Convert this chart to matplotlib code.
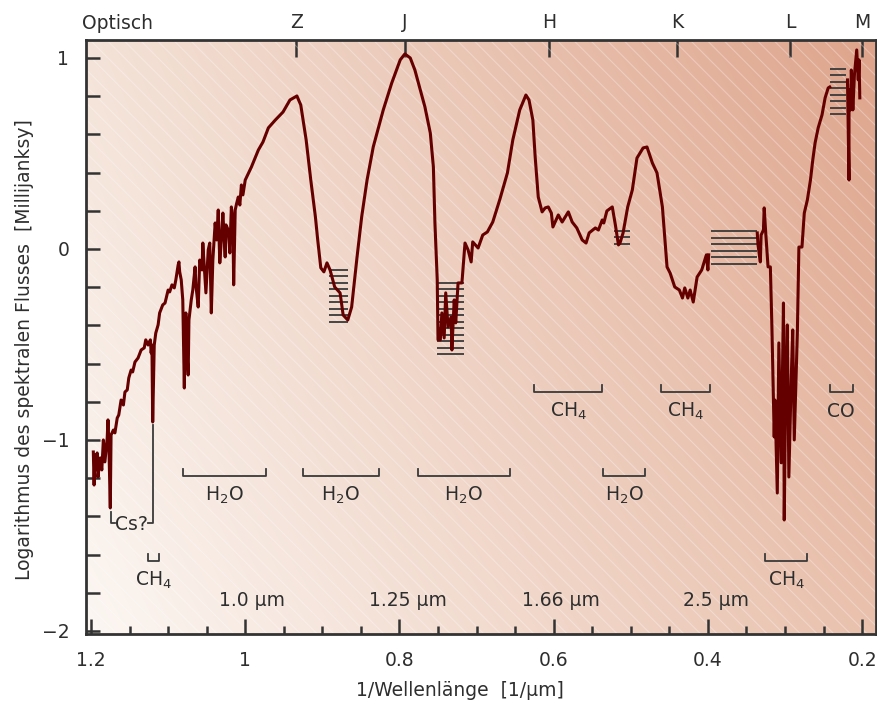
import numpy as np
import matplotlib
matplotlib.use('Agg')
import matplotlib.pyplot as plt
from matplotlib.patches import Rectangle
from matplotlib.ticker import MultipleLocator, FixedLocator

plt.rcParams['font.family'] = ['DejaVu Sans']
plt.rcParams['mathtext.default'] = 'regular'

# ---------------- data ----------------
# 1/wavelength [1/um] and log spectral flux [mJy]; NaN = gap in spectrum
wavenumber = [
    1.197, 1.196, 1.195, 1.194, 1.192, 1.191, 1.188, 1.186, 1.184, 1.182,
    1.179, 1.178, 1.177, 1.175, 1.174, 1.171, 1.169, 1.166, 1.164, 1.161,
    1.158, 1.156, 1.153, 1.151, 1.148, 1.146, 1.143, 1.139, 1.135, 1.131,
    1.129, 1.126, 1.123, 1.122, 1.121, 1.120, 1.118, 1.116, 1.113, 1.111,
    1.107, 1.104, 1.100, 1.098, 1.095, 1.092, 1.090, 1.087, 1.086, 1.085,
    1.083, 1.081, 1.079, 1.078, 1.077, 1.075, 1.074, 1.073, 1.070, 1.068,
    1.065, 1.064, 1.061, 1.059, 1.056, 1.055, 1.052, 1.051, 1.048, 1.046,
    1.044, 1.042, 1.039, 1.037, 1.035, 1.033, 1.031, 1.029, 1.026, 1.025,
    1.022, 1.020, 1.018, 1.016, 1.015, 1.013, 1.011, 1.009, 1.007, 1.005,
    1.003, 1.000, 0.992, 0.983, 0.977, 0.970, 0.961, 0.951, 0.942, 0.933,
    0.928, 0.921, 0.915, 0.909, 0.906, 0.902, 0.898, 0.894, 0.890, 0.884,
    0.877, 0.873, 0.867, 0.862, 0.855, 0.849, 0.842, 0.834, 0.821, 0.810,
    0.799, 0.793, 0.786, 0.780, 0.773, 0.767, 0.760, 0.756, 0.754, 0.751,
    0.750, 0.747, 0.745, 0.742, 0.740, 0.737, 0.733, 0.732, 0.729, 0.727,
    0.724, 0.719, 0.715, 0.711, 0.707, 0.705, 0.698, 0.692, 0.686, 0.679,
    0.670, 0.660, 0.653, 0.644, 0.636, 0.632, 0.627, 0.624, 0.620, 0.615,
    0.611, 0.607, 0.603, 0.601, 0.594, 0.589, 0.581, 0.576, 0.570, 0.563,
    0.558, 0.554, 0.546, 0.542, 0.537, 0.535, 0.531, 0.524, 0.520, 0.516,
    0.514, 0.510, 0.504, 0.498, 0.492, 0.484, 0.479, 0.472, 0.466, 0.459,
    0.453, 0.449, 0.443, 0.437, 0.433, 0.430, 0.426, 0.423, 0.419, 0.414,
    0.408, 0.402, 0.400, 0.399, np.nan,
    0.336, 0.335, 0.332, 0.331, 0.328, 0.327, 0.325, 0.322, 0.319, 0.317,
    0.314, 0.313, 0.310, 0.308, 0.305, 0.302, 0.301, 0.299, 0.297, 0.295,
    0.292, 0.290, 0.288, 0.284, 0.282, 0.278, 0.275, 0.271, 0.267, 0.264,
    0.261, 0.257, 0.252, 0.248, 0.244, 0.242, np.nan,
    0.219, 0.217, 0.217, 0.215, 0.214, 0.212, 0.210, 0.209, 0.207, 0.205,
    0.204, 0.203,
]
log_flux = [
    -1.063, -1.236, -1.079, -1.157, -1.068, -1.194, -1.094, -1.157, -1.000, -1.115,
    -0.990, -0.895, -1.000, -1.356, -0.974, -0.948, -0.963, -0.885, -0.869, -0.791,
    -0.817, -0.749, -0.738, -0.675, -0.634, -0.644, -0.592, -0.571, -0.529, -0.518,
    -0.476, -0.503, -0.476, -0.545, -0.503, -0.906, -0.503, -0.440, -0.398, -0.335,
    -0.293, -0.283, -0.215, -0.225, -0.188, -0.204, -0.162, -0.084, -0.068, -0.120,
    -0.162, -0.267, -0.728, -0.424, -0.335, -0.581, -0.660, -0.372, -0.267, -0.215,
    -0.094, -0.188, -0.304, -0.058, -0.110, 0.031, -0.162, -0.230, -0.005, 0.031,
    -0.335, -0.058, 0.136, 0.047, 0.204, -0.073, 0.047, 0.188, -0.042, 0.126,
    0.099, -0.021, 0.220, 0.152, -0.188, 0.204, 0.241, 0.272, 0.230, 0.335,
    0.283, 0.361, 0.429, 0.518, 0.560, 0.634, 0.675, 0.717, 0.780, 0.801,
    0.754, 0.571, 0.361, 0.168, 0.047, -0.099, -0.120, -0.073, -0.110, -0.199,
    -0.230, -0.346, -0.372, -0.304, -0.042, 0.168, 0.361, 0.534, 0.728, 0.869,
    0.990, 1.021, 1.000, 0.937, 0.833, 0.744, 0.607, 0.429, 0.136, -0.162,
    -0.476, -0.476, -0.335, -0.466, -0.230, -0.408, -0.356, -0.529, -0.267, -0.387,
    -0.178, -0.178, 0.031, -0.005, -0.068, 0.037, 0.005, 0.073, 0.089, 0.141,
    0.257, 0.398, 0.571, 0.728, 0.806, 0.780, 0.675, 0.482, 0.272, 0.194,
    0.215, 0.220, 0.188, 0.115, 0.178, 0.141, 0.194, 0.141, 0.110, 0.047,
    0.031, 0.084, 0.110, 0.099, 0.152, 0.136, 0.199, 0.220, 0.126, 0.021,
    0.031, 0.084, 0.220, 0.309, 0.476, 0.529, 0.534, 0.450, 0.398, 0.220,
    -0.094, -0.126, -0.199, -0.215, -0.257, -0.204, -0.257, -0.215, -0.278, -0.147,
    -0.110, -0.031, -0.110, -0.031, np.nan,
    0.084, 0.021, -0.068, 0.073, 0.099, 0.215, 0.084, -0.094, -0.094, -0.408,
    -0.984, -0.791, -1.278, -0.492, -1.120, -0.283, -1.419, -0.670, -0.398, -1.194,
    -0.686, -0.424, -1.000, -0.440, 0.010, 0.010, 0.188, 0.257, 0.361, 0.466,
    0.555, 0.634, 0.702, 0.791, 0.843, 0.848, np.nan,
    0.885, 0.361, 0.833, 0.728, 0.937, 0.728, 0.911, 0.953, 1.042, 0.885,
    0.990, 0.791,
]

# upper-limit markers (stacks of horizontal lines)
limit_x_start = [0.891, 0.751, 0.522, 0.396, 0.242]
limit_x_end = [0.867, 0.716, 0.501, 0.336, 0.221]
limit_y_top = [-0.110, -0.178, 0.094, 0.094, 0.942]
limit_y_bottom = [-0.382, -0.550, 0.026, -0.079, 0.707]
limit_count = [9, 12, 3, 6, 8]

# absorption band brackets
band_labels = ['H$_2$O', 'H$_2$O', 'H$_2$O', 'H$_2$O', 'CH$_4$', 'CH$_4$', 'CO', 'CH$_4$', 'CH$_4$']
band_x_start = [1.081, 0.925, 0.776, 0.536, 0.625, 0.461, 0.242, 0.326, 1.126]
band_x_end = [0.973, 0.827, 0.657, 0.481, 0.537, 0.397, 0.212, 0.271, 1.112]
band_y = [-1.189, -1.189, -1.189, -1.189, -0.749, -0.749, -0.749, -1.634, -1.634]

# photometric band markers on top axis
filter_names = ['Z', 'J', 'H', 'K', 'L', 'M']
filter_pos = [0.934, 0.793, 0.606, 0.440, 0.293, 0.200]

# wavelength annotations
wl_labels = ['1.0 μm', '1.25 μm', '1.66 μm', '2.5 μm']
wl_pos = [0.991, 0.789, 0.590, 0.389]
wl_y = -1.838

# Cs? marker
cs_x_left = 1.174
cs_x_right = 1.120
cs_y_line_top = -0.921
cs_y_left_top = -1.377
cs_y_bottom = -1.435

# ---------------- figure ----------------
TXT = '#2e2e2e'
FS = 13.5
fig = plt.figure(figsize=(8.78, 7.02), dpi=100)
ax = fig.add_axes([86/878, 1-634/702, 790/878, 594/702])
xlim = (1.2065, 0.182)
ylim = (-2.016, 1.094)

# background gradient
u = np.linspace(0, 1, 300)[None, :]
v = np.linspace(0, 1, 300)[:, None]
BL = np.array([252, 247, 243]) / 255
BR = np.array([233, 193, 173]) / 255
TL = np.array([244, 227, 216]) / 255
TR = np.array([222, 164, 139]) / 255
bg = (BL[None, None] * ((1-u)*(1-v))[..., None] + BR[None, None] * (u*(1-v))[..., None]
      + TL[None, None] * ((1-u)*v)[..., None] + TR[None, None] * (u*v)[..., None])
ax.imshow(bg, extent=(xlim[0], xlim[1], ylim[0], ylim[1]), origin='lower',
          aspect='auto', zorder=0, interpolation='bilinear')
plt.rcParams['hatch.linewidth'] = 0.8
ax.add_patch(Rectangle((0, 0), 1, 1, transform=ax.transAxes, facecolor='none',
                       edgecolor=(1, 1, 1, 0.3), hatch='\\\\', linewidth=0, zorder=0.5))

# upper limits
for x0, x1, yt, yb, n in zip(limit_x_start, limit_x_end, limit_y_top, limit_y_bottom, limit_count):
    ax.hlines(np.linspace(yt, yb, n), x0, x1, colors='#3a3a3a', linewidth=1.3, zorder=2)

# spectrum
ax.plot(wavenumber, log_flux, color='#640000', linewidth=2.2, solid_joinstyle='round', zorder=3)

# band brackets
bh = 0.037
for lab, x0, x1, yb in zip(band_labels, band_x_start, band_x_end, band_y):
    ax.plot([x0, x0, x1, x1], [yb + bh, yb, yb, yb + bh], color='#3a3a3a', linewidth=1.3, zorder=2)
    ax.text((x0 + x1) / 2, yb - 0.1, lab, ha='center', va='center', fontsize=FS, color=TXT)

# Cs? marker
ax.plot([cs_x_left, cs_x_left, cs_x_left - 0.005], [cs_y_left_top, cs_y_bottom, cs_y_bottom],
        color='#3a3a3a', linewidth=1.3, zorder=2)
ax.plot([cs_x_right + 0.006, cs_x_right, cs_x_right], [cs_y_bottom, cs_y_bottom, cs_y_line_top],
        color='#3a3a3a', linewidth=1.3, zorder=2)
ax.text((cs_x_left + cs_x_right) / 2, cs_y_bottom - 0.01, 'Cs?', ha='center', va='center',
        fontsize=FS, color=TXT)

# wavelength labels
for lab, xp in zip(wl_labels, wl_pos):
    ax.text(xp, wl_y, lab, ha='center', va='center', fontsize=FS, color=TXT)

ax.set_xlim(*xlim)
ax.set_ylim(*ylim)

# axes styling
for s in ax.spines.values():
    s.set_color('#333333')
    s.set_linewidth(2)
ax.xaxis.set_major_locator(FixedLocator([1.2, 1.0, 0.8, 0.6, 0.4, 0.2]))
ax.xaxis.set_minor_locator(MultipleLocator(0.05))
ax.set_xticklabels(['1.2', '1', '0.8', '0.6', '0.4', '0.2'])
ax.yaxis.set_major_locator(FixedLocator([1, 0, -1, -2]))
ax.yaxis.set_minor_locator(MultipleLocator(0.2))
ax.tick_params(axis='x', which='major', direction='in', length=11, width=1.8, pad=12,
               labelsize=FS, colors='#333333', labelcolor=TXT)
ax.tick_params(axis='x', which='minor', direction='in', length=6, width=1.8, colors='#333333')
ax.tick_params(axis='y', which='both', direction='in', length=10, width=1.8, pad=12,
               labelsize=FS, colors='#333333', labelcolor=TXT)

top = ax.secondary_xaxis('top')
top.set_xticks(filter_pos)
top.set_xticklabels(filter_names)
top.tick_params(direction='in', length=12, width=1.8, pad=6, labelsize=FS,
                colors='#333333', labelcolor=TXT)
top.spines['top'].set_visible(False)
ax.annotate('Optisch', xy=(0, 1), xycoords='axes fraction', xytext=(-4, 7),
            textcoords='offset pixels', ha='left', va='bottom', fontsize=FS, color=TXT)

fig.text(460/878, 1 - 690/702, '1/Wellenlänge  [1/μm]', ha='center', va='center',
         fontsize=FS, color=TXT)
fig.text(25/878, 1 - 350/702, 'Logarithmus des spektralen Flusses  [Millijanksy]',
         ha='center', va='center', rotation=90, fontsize=FS, color=TXT)

fig.savefig('out.png', dpi=100)
